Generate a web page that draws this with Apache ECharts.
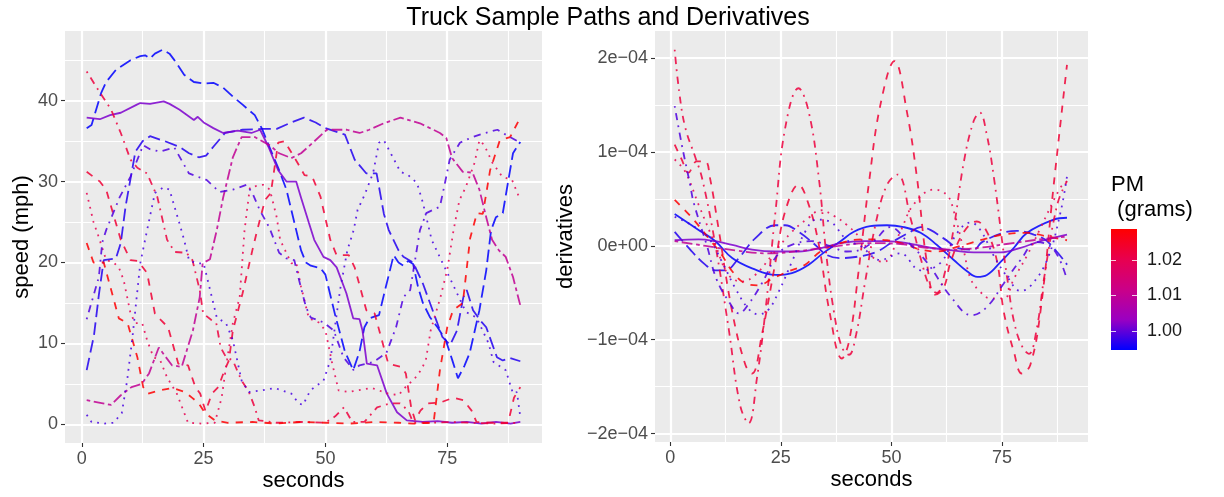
<!DOCTYPE html>
<html>
<head>
<meta charset="utf-8">
<title>Truck Sample Paths and Derivatives</title>
<script src="https://cdn.jsdelivr.net/npm/echarts@6/dist/echarts.min.js"></script>
<style>
  html, body { margin: 0; padding: 0; background: #ffffff; }
  #chart { width: 1224px; height: 497px; }
</style>
</head>
<body>
<div id="chart"></div>
<script>
// ---------------------------------------------------------------
// Data: ten trucks, speed paths (mph) and smoothed derivatives
// (derivatives stored in units of 1e-04), coloured by PM (grams).
// ---------------------------------------------------------------
const PM_RANGE = [0.9946, 1.0287];
const PM_TICKS = [1.00, 1.01, 1.02];
const SECOND_TICKS = [0, 25, 50, 75];
const SECOND_MINOR = [12.5, 37.5, 62.5, 87.5];
const SPEED_TICKS = [0, 10, 20, 30, 40];
const SPEED_MINOR = [5, 15, 25, 35, 45];
const DERIV_TICKS = [-2, -1, 0, 1, 2];
const DERIV_MINOR = [-1.5, -0.5, 0.5, 1.5];

// PM of each truck (grams)
const pmGrams = [0.9946, 0.9965, 1.0015, 1.022, 1.023, 1.0285, 1.020, 1.010, 0.999, 0.9985];

// speed (mph) against seconds
const speed1 = [[1,36.6],[2,37],[3,39],[4,41],[5,42.3],[7,43.8],[10,45],[12,45.5],[13,45.6],[14,45.2],[15,45.8],[16.6,46.3],[18,45.8],[19,45],[21,43.2],[23,42.3],[25,42.1],[27,42.2],[29,41.6],[31,40.5],[33,39.5],[35.5,38.2],[37,36.5],[38,35],[40.5,31.4],[42,29],[44,24],[45,21.5],[46,20],[47,19.6],[49,19.3],[50,18.5],[52,13.5],[54,9],[55.7,6.7],[57,9],[58,12],[59,13.1],[60,13.3],[61,13.5],[62,16],[64,20.9],[65,20],[66,19.6],[67,20.2],[68,19.8],[69,17],[70,15],[71.5,13.2],[73,12],[74.7,10.4],[76,8],[77.2,5.7],[78.5,7.2],[79.6,8.8],[81.6,14.1],[83,19],[84,24],[85,25.6],[86.4,26.1],[87.5,30],[88.5,33.5],[90,34.9]];
const speed2 = [[1,6.7],[2.5,11],[3.5,16],[4.5,20.3],[7,20.5],[8,22.4],[9,27],[11,33.7],[12.5,35],[14,35.6],[17,35],[20,34.3],[22,33.5],[24,33],[25.5,33.2],[27,34.3],[29.4,36],[33,36.4],[37,36.5],[40,36.5],[43,37.3],[45.6,37.9],[48,37.3],[50,36.6],[52,36.2],[54,35.8],[56,32.7],[58.4,31],[60.5,31],[62,26],[63,24],[65,21.5],[66,20.7],[68,20],[70,17.4],[72,14.1],[74,10.8],[75.6,9.8],[77,11.6],[78.3,15.7],[79,16.6],[80.3,14.1],[81.7,12.9],[83,12],[85.2,8.3],[86.4,7.9],[87.9,8.2],[90,7.8]];
const speed3 = [[1,37.9],[3.7,37.7],[5.8,38.2],[8,38.5],[11.3,39.5],[12,39.7],[14,39.6],[16.8,39.9],[18,39.6],[20,38.9],[23,37.6],[23.8,38],[25,37.3],[27,36.6],[29,36],[32,36.3],[34.8,36],[36.6,36.4],[38.3,34.3],[40.3,31.4],[42,30],[44,30],[45,28],[46.6,24.9],[47.7,22.8],[49.6,20.7],[51,20.3],[52.3,19.4],[54.3,16.2],[55.7,13.1],[57,13],[57.6,11.6],[58.5,7.5],[60.6,7.3],[62.6,3.8],[64.7,1.5],[66.7,0.5],[70,0.3],[73,0.4],[76,0.2],[79,0.3],[82,0.1],[85,0.3],[88,0.1],[90,0.3]];
const speed4 = [[1,43.6],[3.7,41],[6,38.9],[8,36],[10,32.7],[11.4,31.7],[13.4,31],[15.5,28.1],[17.5,22.8],[19.1,21.3],[21.5,21.2],[22.7,20.3],[24.2,16.6],[24.9,13.7],[26.6,12.9],[27.6,12.5],[28.5,9.5],[29.6,8.3],[31,7.9],[32.8,5.4],[34.3,4],[35.5,2.1],[36.3,0.5],[40,0.2],[45,0.3],[50,0.2],[52,1],[53.8,2.1],[55.5,0.3],[58,0.3],[60.6,2.1],[63.3,2.6],[65.3,2.6],[67,1.7],[68,0.2],[72,0.2],[76,0.3],[80,0.2],[85,0.1],[90,0.2]];
const speed5 = [[1,31.2],[3.7,30],[5,29],[8,22.8],[10,20.3],[11.5,20.2],[13.4,18.7],[15,13.7],[16.2,12.9],[17.7,12],[19.8,7.5],[21.8,7.3],[23.3,4.6],[24.3,3.8],[25.4,1.6],[26.7,3.8],[28,4.6],[29.3,6.7],[30.2,7.9],[31,11.6],[33,16.2],[35,21.5],[36,24],[37.6,27.7],[38.8,28.6],[40.3,34.8],[41.6,35],[44.3,32.3],[45.7,30.8],[47.3,30.6],[49,28.1],[51,22.8],[52.3,20.9],[54.8,20.9],[56,19.4],[58.4,14.1],[60.1,13.7],[62.9,7.5],[65.6,7.1],[66.5,6.3],[67.6,2.1],[68.4,0.5],[69.5,1.7],[71,2.6],[73.6,2.7],[76.3,3.3],[78.3,3],[80,1.7],[81,0.3],[84,0.2],[87.5,0.2],[88.7,3.3],[90,4.6]];
const speed6 = [[1,22.4],[2.4,20],[4.5,20],[7.6,13.1],[9.4,12.5],[11.4,8.3],[12.6,4.6],[13.6,3.8],[16,4.2],[18.6,4.5],[21.2,4],[22.6,3.3],[24,2.6],[25.3,1.4],[27.3,0.5],[30,0.2],[35,0.3],[40,0.1],[45,0.3],[50,0.2],[55,0.1],[60,0.3],[65,0.2],[68,0.1],[72.2,0.2],[73.5,6.7],[75,12],[76.2,14.1],[78.2,15],[79.7,23],[81.1,26.1],[82.3,26],[83.8,31.4],[85.8,35.1],[87.9,35.5],[90,37.9]];
const speed7 = [[1,28.6],[2.4,25],[3.5,23.1],[5,20.3],[6.5,20],[7.6,19.4],[8.6,17.8],[10,13.7],[11,12.5],[12.4,12.5],[13.4,10.4],[14.7,8.3],[16.1,7.9],[17.5,5.8],[19.5,3.8],[21.8,0.2],[24.6,0.1],[27.3,0.2],[28.7,3.3],[29.7,7.5],[31,12.5],[32.4,15.7],[33.4,24],[34.5,29.3],[37.2,29.6],[38.6,29],[40,25.6],[40.7,22.8],[43,19.9],[44,20],[45,17],[46.6,13.1],[48.6,12.6],[50,11.6],[51.4,7.5],[52.7,4.2],[54.8,4],[59.5,4.5],[62.9,3.8],[65,3.6],[67,5],[68,5.4],[69.6,6.7],[70.6,7.9],[71.6,11.6],[73.6,15.7],[75,19.1],[76.3,24],[77.5,27.7],[78.8,29.3],[80.6,32.3],[81.6,35.1],[82.6,34.5],[84.3,32.3],[86.3,30.6],[88.3,30.2],[90,27.7]];
const speed8 = [[1,3],[3.5,2.7],[6,2.4],[8,3.6],[10.2,4.6],[12.3,5],[13.8,6.3],[14.8,7.9],[15.8,9.5],[17,8.5],[18.5,7.3],[20.5,7.1],[22.8,11.6],[24.2,15.7],[24.8,19.9],[26.3,20.4],[27.7,24],[29,28],[31,33],[32.8,35.5],[35.5,35.5],[38.5,34.5],[40.5,33.5],[43,32.9],[45,33.5],[46.5,34.3],[50.3,36.4],[54.4,36.4],[57,36],[59,36.4],[62,37.2],[65.4,37.9],[69.4,37.2],[73.5,36],[74.8,35.4],[76,32.9],[78.2,31.2],[80.2,31.1],[81.6,29],[83,25.6],[84.2,22.8],[85.6,21.5],[87,20.7],[88.5,18.2],[90,14.7]];
const speed9 = [[1,13],[3.5,18.2],[4.2,22.5],[5,24],[7.8,28.1],[10,30.6],[12.6,34.5],[14,34],[16,33.7],[19,34.2],[22,31],[25.6,30.2],[28.3,28.7],[31,29],[33.8,29.6],[35,28.6],[36.5,26.5],[38.5,24.3],[40.5,21.2],[42,20.5],[43.6,20.3],[44.6,17.8],[46,14.5],[47,13.2],[49.6,12.6],[51.7,11.6],[53.7,8.3],[55.8,6.7],[57,7.3],[59.8,7.7],[62.5,8.8],[64.5,12],[66,15.7],[67.4,16.6],[69.4,24],[70.7,26.1],[73.5,26.9],[74.8,30.6],[75.5,32.7],[77.6,34.8],[80.2,35.5],[82.8,36],[85.3,36.4],[87,35.8],[90,34.8]];
const speed10 = [[1,1.2],[2,0.3],[4.5,0.1],[6.5,0.2],[8.2,1.4],[9.3,5.4],[10.4,10.8],[12,19.9],[13.4,24],[15,28.6],[16.8,29.3],[18,29],[20,24.9],[21,22.8],[22,20.3],[23.5,19.9],[25,19.9],[27.7,13.2],[29.6,12.5],[31,10.4],[32.8,5.4],[34.3,4],[37,4.2],[39.6,4.5],[43,3.8],[44.5,2.6],[45.4,2.4],[46.9,4.2],[49.6,5.4],[51,7.9],[53,16.6],[54.5,21.5],[55.8,24],[56.6,26.5],[58,28.3],[59.8,31.1],[61,34.8],[62,35.1],[63.4,33.5],[65.4,31.2],[67,30.8],[68.8,29.8],[70,27.4],[71.8,22.8],[74,20],[76,17.5],[78.8,13.9],[81,13.2],[83.5,10],[84.5,7.7],[87,6.7],[88.5,3.8],[89.3,4],[90,0.9]];

// derivatives (x 1e-04) against seconds
const deriv1 = [[1,0.34],[6.4,0.17],[10.2,0.05],[14,-0.13],[18.5,-0.24],[23.8,-0.31],[27.5,-0.29],[31.3,-0.2],[34.5,-0.08],[38.5,0.05],[41.5,0.15],[45.2,0.21],[49,0.22],[52.8,0.2],[56.6,0.14],[60.3,0.01],[64.1,-0.15],[67.1,-0.27],[69.4,-0.33],[71.6,-0.31],[74.7,-0.17],[77.7,-0.02],[80.7,0.14],[86.7,0.28],[89.7,0.3]];
const deriv2 = [[1,0.15],[4.9,-0.06],[7.9,-0.2],[10.2,-0.26],[12.4,-0.26],[15.5,-0.13],[19.2,0.08],[23.8,0.22],[26,0.22],[29,0.15],[32.8,0.01],[35.5,-0.1],[38.5,-0.13],[43,-0.11],[46.8,-0.06],[50.5,0.05],[54.3,0.15],[56.6,0.2],[58.8,0.17],[61.8,0.08],[65.6,-0.03],[68.6,-0.04],[70.5,0.04],[75.4,0.14],[78.4,0.16],[82.2,0.12],[85.2,0.05],[89.7,-0.2]];
const deriv3 = [[1,0.06],[6.4,0.07],[10.2,0.05],[14,0.01],[18.5,-0.04],[23.8,-0.06],[29,-0.06],[34.3,-0.02],[38.5,0.03],[43.7,0.05],[49,0.05],[53.5,0.03],[58.8,-0.02],[64.1,-0.05],[68.6,-0.07],[74.7,-0.07],[79.2,-0.02],[83.7,0.05],[89.7,0.12]];
const deriv4 = [[1,2.09],[2,1.65],[3.4,1.26],[5.7,0.94],[7.2,0.72],[10.2,0.01],[13.2,-0.88],[15.8,-1.7],[17.7,-1.89],[19.6,-1.41],[21.5,-0.7],[23.8,0.37],[26,1.26],[29,1.68],[31.3,1.43],[33.6,0.72],[35.3,-0.1],[37,-0.7],[38.8,-1.08],[40.4,-1.16],[42,-0.95],[44,-0.4],[46.5,0.25],[49,0.65],[51.4,0.76],[54.3,0.3],[56.6,-0.13],[58.8,-0.45],[60.3,-0.5],[62,-0.3],[64.1,0.19],[66.4,0.9],[68.6,1.33],[70,1.42],[71.5,1.2],[73.2,0.72],[76.2,-0.35],[78.5,-0.95],[81.1,-1.15],[82.8,-0.9],[84.5,-0.35],[87.5,0.44],[89.7,0.69]];
const deriv5 = [[1,1.08],[2.6,0.92],[4.1,0.78],[6,0.9],[7.9,0.9],[9,0.72],[10.9,0.19],[14,-0.7],[17,-1.27],[18.5,-1.36],[20.7,-0.95],[23.8,-0.17],[26,0.37],[29,0.65],[31.3,0.44],[33.6,0.01],[36,-0.7],[38.8,-1.2],[40.5,-1.0],[42.5,-0.3],[45,0.7],[47.5,1.5],[50.7,1.97],[53.5,1.43],[55.8,0.72],[58,-0.17],[59.9,-0.52],[61.8,-0.45],[63.4,-0.17],[66.4,0.15],[69.3,0.26],[71.6,0.15],[73.9,-0.17],[75.4,-0.7],[77.7,-1.13],[79.5,-1.36],[81.4,-1.27],[83.7,-0.7],[86.7,0.65],[89.7,1.93]];
const deriv6 = [[1,0.49],[4.9,0.3],[8.7,0.08],[11.7,-0.1],[14,-0.27],[17,-0.4],[20,-0.42],[23,-0.35],[26.8,-0.27],[30.5,-0.2],[34,-0.06],[38.5,0.03],[43.7,0.07],[49,0.06],[53.5,0.01],[56.6,-0.04],[60.3,-0.06],[64.1,-0.02],[67.9,0.03],[71.6,0.08],[75,0.12],[80.7,0.14],[85.2,0.1],[89.7,0.06]];
const deriv7 = [[1,0.92],[3.4,0.79],[6.4,0.44],[10.2,0.01],[13.2,-0.31],[16.2,-0.38],[19.2,-0.31],[23,-0.1],[27.5,0.15],[31.3,0.3],[34,0.38],[37,0.32],[40,0.22],[43,0.08],[46,-0.13],[48.3,-0.17],[52,0.15],[55,0.44],[59.6,0.6],[62.6,0.54],[64.1,0.37],[66.4,-0.06],[67.9,-0.35],[70.1,-0.49],[72.4,-0.56],[75.4,-0.56],[77.7,-0.35],[80.7,-0.1],[83.7,0.19],[88.2,0.62],[89.7,0.69]];
const deriv8 = [[1,0.05],[8,0.0],[15,-0.05],[22,-0.08],[30,-0.05],[38,0.0],[45,0.03],[52,0.02],[58,-0.02],[64,-0.04],[70,-0.02],[76,0.02],[82,0.06],[89.7,0.1]];
const deriv9 = [[1,1.49],[2.6,1.08],[4.5,0.65],[5.3,0.46],[8.3,0.0],[10.5,-0.36],[13.6,-0.62],[15.5,-0.72],[17.7,-0.62],[20.7,-0.4],[24.5,-0.08],[28,0.02],[32,0.05],[36,0.0],[40,-0.06],[43,-0.04],[46,0.05],[49.8,0.2],[53.5,0.05],[58.1,-0.18],[63.4,-0.54],[68.2,-0.74],[71.6,-0.65],[75.4,-0.4],[79.2,-0.15],[82.9,0.04],[86.7,-0.04],[89.7,-0.36]];
const deriv10 = [[1,0.31],[4.9,0.22],[8.7,0.08],[11.7,-0.17],[14.7,-0.45],[17.7,-0.67],[20,-0.73],[22.2,-0.68],[24.5,-0.49],[27.5,-0.17],[30.5,0.15],[33,0.28],[36,0.26],[40,0.06],[43,0.0],[47.5,-0.15],[52,-0.08],[56.6,-0.26],[61.1,-0.18],[64.9,0.14],[67.9,0.25],[70.1,0.17],[73.2,-0.11],[76.2,-0.33],[79.2,-0.48],[81.4,-0.43],[85.2,-0.15],[88.2,0.35],[89.7,0.74]];

const speedPaths = [speed1, speed2, speed3, speed4, speed5, speed6, speed7, speed8, speed9, speed10];
const derivPaths = [deriv1, deriv2, deriv3, deriv4, deriv5, deriv6, deriv7, deriv8, deriv9, deriv10];

// ---------------------------------------------------------------
// Styling
// ---------------------------------------------------------------
const FONT = '"Liberation Sans", Arial, Helvetica, sans-serif';
const speedLinetypes = ['longdash', 'longdash', 'solid', 'dotdash', 'dashed', 'dashed', 'dotted', 'twodash', 'dotdash', 'dotted'];
const derivLinetypes = ['solid', 'longdash', 'solid', 'dotdash', 'dashed', 'dashed', 'dotted', 'twodash', 'dotdash', 'dotted'];
const LINE_W = 1.8;
const U = 1.8;
const DASHES = {
  solid: 'solid',
  dashed: [4 * U, 4 * U],
  dotted: [1 * U, 3 * U],
  dotdash: [1 * U, 3 * U, 4 * U, 3 * U],
  longdash: [7 * U, 3 * U],
  twodash: [2 * U, 2 * U, 6 * U, 2 * U]
};

// blue -> red gradient (perceptual midpoints)
const GRADIENT = ['#0000FF', '#9A00C2', '#CA0088', '#E8004F', '#FF0000'];

function hexToRgb(h) {
  return [parseInt(h.slice(1, 3), 16), parseInt(h.slice(3, 5), 16), parseInt(h.slice(5, 7), 16)];
}
function pmColor(pm) {
  let f = (pm - PM_RANGE[0]) / (PM_RANGE[1] - PM_RANGE[0]);
  f = Math.max(0, Math.min(1, f));
  const seg = f * (GRADIENT.length - 1);
  const i = Math.min(GRADIENT.length - 2, Math.floor(seg));
  const r = seg - i;
  const a = hexToRgb(GRADIENT[i]), b = hexToRgb(GRADIENT[i + 1]);
  const c = a.map((v, k) => Math.round(v + (b[k] - v) * r));
  return 'rgb(' + c.join(',') + ')';
}

function derivLabel(v) {
  if (v === 0) return '0e+00';
  return (v < 0 ? '\u2212' : '') + Math.abs(v) + 'e\u221204';
}

const tickLabel = { color: '#4D4D4D', fontSize: 18, fontFamily: FONT };
const axisNameStyle = { color: '#000000', fontSize: 22, fontFamily: FONT };
const majorSplit = { show: true, lineStyle: { color: '#FFFFFF', width: 2.2 } };
const minorSplit = { show: true, lineStyle: { color: '#FFFFFF', width: 1.1 } };
const tickStyle = { show: true, length: 4, lineStyle: { color: '#333333', width: 1.1 } };

function majorAxis(gridIndex, min, max, ticks, extra) {
  return Object.assign({
    type: 'value', gridIndex, min, max, scale: true,
    axisLine: { show: false, onZero: false },
    axisTick: Object.assign({ customValues: ticks }, tickStyle),
    axisLabel: Object.assign({ customValues: ticks, margin: 7 }, tickLabel),
    splitLine: majorSplit,
    minorTick: { show: false },
    minorSplitLine: { show: false },
    nameMoveOverlap: false,
    nameTextStyle: axisNameStyle
  }, extra || {});
}
function minorAxis(gridIndex, min, max, ticks, position) {
  return {
    type: 'value', gridIndex, min, max, position, scale: true,
    axisLine: { show: false, onZero: false },
    axisTick: { show: false, length: 0, customValues: ticks, lineStyle: { width: 0, opacity: 0 } },
    axisLabel: { show: false, customValues: ticks },
    minorTick: { show: false },
    splitLine: minorSplit
  };
}

const X_MIN = -3.45, X_MAX = 94.45;

const xAxes = [
  majorAxis(0, X_MIN, X_MAX, SECOND_TICKS, { position: 'bottom', name: 'seconds', nameLocation: 'middle', nameGap: 27 }),
  minorAxis(0, X_MIN, X_MAX, SECOND_MINOR, 'top'),
  majorAxis(1, X_MIN, X_MAX, SECOND_TICKS, { position: 'bottom', name: 'seconds', nameLocation: 'middle', nameGap: 27 }),
  minorAxis(1, X_MIN, X_MAX, SECOND_MINOR, 'top')
];
const yAxes = [
  majorAxis(0, -2.3, 48.6, SPEED_TICKS, { position: 'left', name: 'speed (mph)', nameLocation: 'middle', nameGap: 32, nameRotate: 90 }),
  minorAxis(0, -2.3, 48.6, SPEED_MINOR, 'right'),
  majorAxis(1, -2.09, 2.29, DERIV_TICKS, { position: 'left', name: 'derivatives', nameLocation: 'middle', nameGap: 78, nameRotate: 90 }),
  minorAxis(1, -2.09, 2.29, DERIV_MINOR, 'right')
];
yAxes[2].axisLabel.formatter = derivLabel;

const series = [];
speedPaths.forEach((path, i) => {
  series.push({
    type: 'line', xAxisIndex: 0, yAxisIndex: 0, data: path,
    symbol: 'none', silent: true, animation: false, smooth: false,
    lineStyle: { color: pmColor(pmGrams[i]), width: LINE_W, type: DASHES[speedLinetypes[i]], cap: 'butt', opacity: 0.85 }
  });
});
derivPaths.forEach((path, i) => {
  series.push({
    type: 'line', xAxisIndex: 2, yAxisIndex: 2, data: path,
    symbol: 'none', silent: true, animation: false, smooth: 0.4,
    lineStyle: { color: pmColor(pmGrams[i]), width: LINE_W, type: DASHES[derivLinetypes[i]], cap: 'butt', opacity: 0.85 }
  });
});

// ---------------------------------------------------------------
// PM colour bar
// ---------------------------------------------------------------
const BAR = { x: 1111, y: 229, w: 26, h: 121 };
function pmToY(v) {
  return BAR.y + (PM_RANGE[1] - v) / (PM_RANGE[1] - PM_RANGE[0]) * BAR.h;
}
const barStops = GRADIENT.slice().reverse().map((c, k, arr) => ({ offset: k / (arr.length - 1), color: c }));
const legendGraphics = [
  {
    type: 'text', left: BAR.x, top: 172, silent: true,
    style: { text: 'PM\n (grams)', fill: '#000000', font: '22px ' + FONT, lineHeight: 25 }
  },
  {
    type: 'rect', silent: true,
    shape: { x: BAR.x, y: BAR.y, width: BAR.w, height: BAR.h },
    style: { fill: new echarts.graphic.LinearGradient(0, 0, 0, 1, barStops) }
  }
];
PM_TICKS.forEach(v => {
  const y = Math.round(pmToY(v)) + 0.5;
  legendGraphics.push(
    { type: 'line', silent: true, shape: { x1: BAR.x, y1: y, x2: BAR.x + 5, y2: y }, style: { stroke: 'rgba(255,255,255,0.8)', lineWidth: 1 } },
    { type: 'line', silent: true, shape: { x1: BAR.x + BAR.w - 5, y1: y, x2: BAR.x + BAR.w, y2: y }, style: { stroke: 'rgba(255,255,255,0.8)', lineWidth: 1 } },
    { type: 'text', silent: true, x: BAR.x + BAR.w + 10, y: pmToY(v),
      style: { text: v.toFixed(2), fill: '#1A1A1A', font: '18px ' + FONT, verticalAlign: 'middle', align: 'left' } }
  );
});

const option = {
  animation: false,
  backgroundColor: '#FFFFFF',
  textStyle: { fontFamily: FONT },
  title: {
    text: 'Truck Sample Paths and Derivatives',
    left: 603, top: 1, textAlign: 'center',
    textStyle: { fontFamily: FONT, fontSize: 25, fontWeight: 'normal', color: '#000000' }
  },
  grid: [
    { left: 65, top: 31, width: 477, height: 412, show: true, backgroundColor: '#EBEBEB', borderWidth: 0, containLabel: false, outerBoundsMode: 'none' },
    { left: 655, top: 31, width: 433, height: 411, show: true, backgroundColor: '#EBEBEB', borderWidth: 0, containLabel: false, outerBoundsMode: 'none' }
  ],
  xAxis: xAxes,
  yAxis: yAxes,
  series: series,
  graphic: legendGraphics
};

const chart = echarts.init(document.getElementById('chart'), null, { renderer: 'canvas' });
chart.setOption(option);
</script>
</body>
</html>
